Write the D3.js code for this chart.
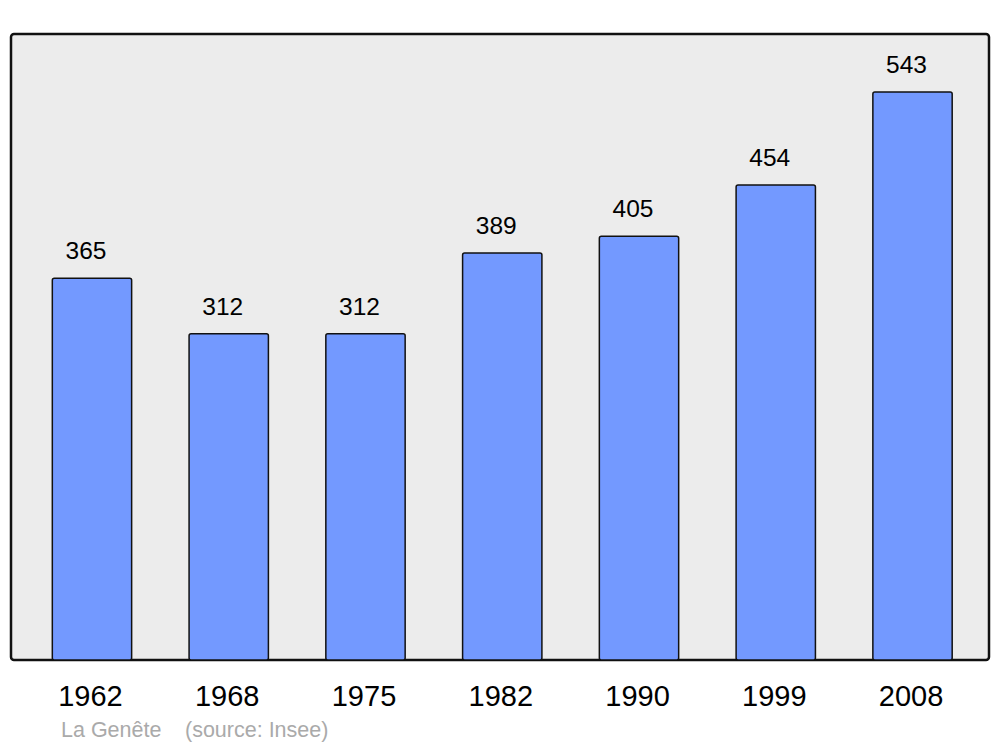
<!DOCTYPE html>
<html>
<head>
<meta charset="utf-8">
<script src="https://cdn.jsdelivr.net/npm/d3@7"></script>
<style>
  html, body { margin: 0; padding: 0; background: #fff; }
  svg { display: block; font-family: "Liberation Sans", Arial, sans-serif; }
</style>
</head>
<body>
<svg id="chart" width="1000" height="747"></svg>
<script>
// Population by census year
const years = ['1962', '1968', '1975', '1982', '1990', '1999', '2008'];
const population = [365, 312, 312, 389, 405, 454, 543];
const townName = 'La Genête';
const sourceNote = '(source: Insee)';

const svg = d3.select('#chart');

// Panel frame
const panel = { left: 11, top: 34, right: 989, bottom: 660 };

svg.append('rect')
  .attr('x', panel.left)
  .attr('y', panel.top)
  .attr('width', panel.right - panel.left)
  .attr('height', panel.bottom - panel.top)
  .attr('rx', 3)
  .attr('fill', '#ececec')
  .attr('stroke', '#111')
  .attr('stroke-width', 2.5);

// Scales
const x = d3.scaleBand()
  .domain(years)
  .range([23.6, 980.9])
  .paddingInner(0.42)
  .paddingOuter(0.21);

const y = d3.scaleLinear()
  .domain([0, 543])
  .range([panel.bottom, 92]);

const data = years.map((yr, i) => ({ year: yr, value: population[i] }));

// Bars
svg.selectAll('.bar')
  .data(data)
  .enter()
  .append('rect')
  .attr('class', 'bar')
  .attr('x', d => x(d.year))
  .attr('y', d => y(d.value))
  .attr('width', x.bandwidth())
  .attr('height', d => y(0) - y(d.value))
  .attr('rx', 2)
  .attr('fill', '#7399ff')
  .attr('stroke', '#111')
  .attr('stroke-width', 1.5);

// Value labels
svg.selectAll('.val')
  .data(data)
  .enter()
  .append('text')
  .attr('class', 'val')
  .attr('x', d => x(d.year) + x.bandwidth() / 2 - 6)
  .attr('y', d => y(d.value) - 19)
  .attr('text-anchor', 'middle')
  .attr('font-size', 24.5)
  .attr('fill', '#000')
  .text(d => d.value);

// Year axis labels
const xAxis = d3.axisBottom(x).tickSize(0).tickPadding(25);
const ax = svg.append('g')
  .attr('transform', `translate(-1.5,${panel.bottom})`)
  .call(xAxis);
ax.select('.domain').remove();
ax.selectAll('text')
  .attr('font-size', 29)
  .attr('font-family', '"Liberation Sans", Arial, sans-serif')
  .attr('fill', '#000');

// Footer
svg.append('text')
  .attr('x', 61)
  .attr('y', 737)
  .attr('font-size', 21.5)
  .attr('fill', '#aaa')
  .text(townName);

svg.append('text')
  .attr('x', 185)
  .attr('y', 737)
  .attr('font-size', 21.5)
  .attr('fill', '#aaa')
  .text(sourceNote);
</script>
</body>
</html>
